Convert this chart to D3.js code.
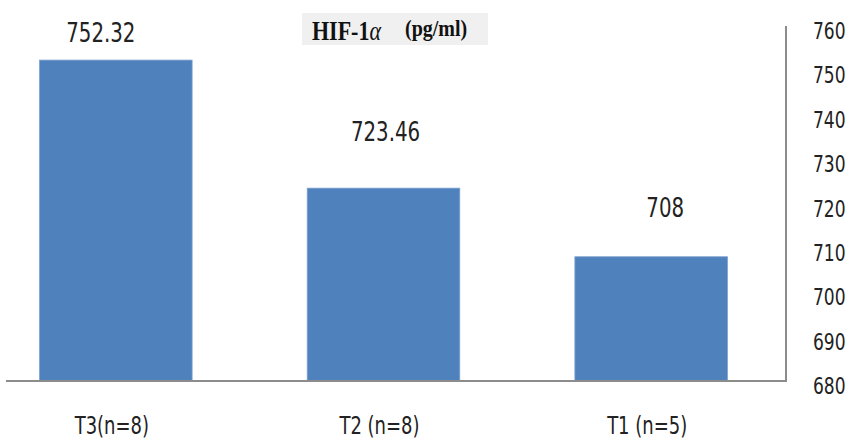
<!DOCTYPE html>
<html>
<head>
<meta charset="utf-8">
<script src="https://cdn.jsdelivr.net/npm/d3@7"></script>
<style>
  body { margin: 0; background: #fff; }
  svg { display: block; }
</style>
</head>
<body>
<div id="chart"></div>
<script>
// data
const groups = ["T3(n=8)", "T2 (n=8)", "T1 (n=5)"];
const values = [752.32, 723.46, 708];
const valueLabels = ["752.32", "723.46", "708"];
const yTicks = [680, 690, 700, 710, 720, 730, 740, 750, 760];

const width = 851,
  height = 440;

// the original picture is a bit stretched vertically, text included
const stretch = 1.2;
function stretchText(sel) {
  sel.each(function () {
    const t = d3.select(this);
    const tx = +t.attr("x") || 0,
      ty = +t.attr("y") || 0;
    t.attr("x", 0).attr("y", 0)
      .attr("transform", `translate(${tx},${ty}) scale(1,${stretch})`);
  });
}

const svg = d3.select("#chart")
  .append("svg")
  .attr("width", width)
  .attr("height", height);

// x: bands, the plot runs a bit past the left edge
const x = d3.scaleBand()
  .domain(groups)
  .range([-18, 785])
  .paddingInner(0.43)
  .paddingOuter(0.215);

// y axis sits on the right
const y = d3.scaleLinear()
  .domain([680, 760])
  .range([381, 26]);

// bars
svg.selectAll(".bar")
  .data(values)
  .enter()
  .append("rect")
  .attr("class", "bar")
  .attr("x", (d, i) => x(groups[i]))
  .attr("width", x.bandwidth())
  .attr("y", d => y(d))
  .attr("height", d => y(680) - y(d))
  .attr("fill", "#4f81bd")
  .attr("stroke", "#7ea1cf")
  .attr("stroke-width", 0.8);

// right axis, no tick marks
const yAxis = svg.append("g")
  .attr("transform", "translate(786,0)")
  .call(d3.axisRight(y).tickValues(yTicks).tickSize(0).tickPadding(27));
yAxis.select(".domain").remove();
yAxis.selectAll("text")
  .attr("dy", "0.42em")
  .attr("y", 3)
  .style("font-family", "'DejaVu Sans Condensed', 'DejaVu Sans', sans-serif")
  .style("font-size", "19px")
  .style("fill", "#222")
  .call(stretchText);

// frame lines
svg.append("line")
  .attr("x1", 786).attr("x2", 786)
  .attr("y1", y(760)).attr("y2", y(680))
  .attr("stroke", "#8c8c8c")
  .attr("stroke-width", 2);
svg.append("line")
  .attr("x1", 6).attr("x2", 787)
  .attr("y1", y(680)).attr("y2", y(680))
  .attr("stroke", "#8c8c8c")
  .attr("stroke-width", 2);

// value labels (placed by hand in the original)
const labelNudge = [[-15, -28], [2, -57], [14, -49]];
svg.selectAll(".vlabel")
  .data(values)
  .enter()
  .append("text")
  .attr("class", "vlabel")
  .attr("x", (d, i) => x(groups[i]) + x.bandwidth() / 2 + labelNudge[i][0])
  .attr("y", (d, i) => y(d) + labelNudge[i][1])
  .attr("dy", "0.36em")
  .attr("text-anchor", "middle")
  .style("font-family", "'DejaVu Sans Condensed', 'DejaVu Sans', sans-serif")
  .style("font-size", "22px")
  .style("fill", "#222")
  .text((d, i) => valueLabels[i])
  .call(stretchText);

// category labels
svg.selectAll(".glabel")
  .data(groups)
  .enter()
  .append("text")
  .attr("class", "glabel")
  .attr("x", d => x(d) + x.bandwidth() / 2 - 4)
  .attr("y", 425)
  .attr("dy", "0.36em")
  .attr("text-anchor", "middle")
  .style("font-family", "'DejaVu Sans Condensed', 'DejaVu Sans', sans-serif")
  .style("font-size", "20px")
  .style("fill", "#222")
  .text(d => d)
  .call(stretchText);

// title box
svg.append("rect")
  .attr("x", 302)
  .attr("y", 13)
  .attr("width", 186)
  .attr("height", 32)
  .attr("fill", "#f0f0f0");

const title = svg.append("text")
  .attr("x", 312)
  .attr("y", 40)
  .style("font-family", "'Liberation Serif', 'Times New Roman', serif")
  .style("font-weight", "bold")
  .style("font-size", "22px")
  .style("fill", "#111");
title.append("tspan").text("HIF-1");
title.append("tspan")
  .style("font-style", "italic")
  .style("font-weight", "normal")
  .text("α");
title.append("tspan")
  .attr("x", 93)
  .attr("dy", -3)
  .style("font-size", "20px")
  .text("(pg/ml)");
title.call(stretchText);
</script>
</body>
</html>
